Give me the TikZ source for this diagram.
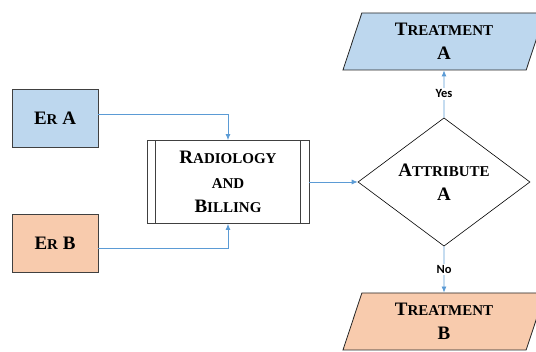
\documentclass[tikz,border=0pt]{standalone}
\usepackage{fontspec}
\setmainfont{Liberation Serif}
\newfontfamily\yesnofont{Carlito}
\usetikzlibrary{shapes.geometric, positioning, arrows.meta}
\usepackage{xcolor}
\definecolor{erblue}{HTML}{BDD7EE}
\definecolor{erorange}{HTML}{F8CBAD}
\definecolor{flowblue}{HTML}{5B9BD5}
\newcommand{\lowcaps}[1]{{\fontsize{15}{15}\selectfont #1}}

\begin{document}
\begin{tikzpicture}[x=1pt, y=-1pt,
        font=\bfseries\fontsize{19}{24.5}\selectfont,
        erbox/.style={draw=black!75, line width=0.8pt, minimum width=86pt, minimum height=58pt, inner sep=0pt},
        procbox/.style={draw=black!75, line width=0.8pt, minimum width=162pt, minimum height=83pt, align=center, inner sep=0pt},
        decision/.style={diamond, draw=black, line width=0.6pt, minimum width=172pt, minimum height=127pt, align=center, inner sep=0pt},
        outcome/.style={trapezium, trapezium left angle=63, trapezium right angle=117, trapezium stretches body,
            draw=black!85, line width=0.8pt, minimum width=202pt, minimum height=57pt, align=center, inner sep=0pt},
        flow/.style={draw=flowblue, line width=0.8pt, -{Latex[length=6pt, width=5pt]}},
        yesno/.style={fill=white, inner sep=1.5pt, font=\yesnofont\bfseries\fontsize{12.5}{12.5}\selectfont}]
        \useasboundingbox (0,0) rectangle (536,352);
        \node[erbox, fill=erblue] (erA) at (55,118) {E\lowcaps{R} A};
        \node[erbox, fill=erorange] (erB) at (55,243) {E\lowcaps{R} B};
        \node[procbox] (rad) at (228,182) {R\lowcaps{ADIOLOGY}\\\lowcaps{AND}\\B\lowcaps{ILLING}};
        \draw[draw=black!75, line width=0.8pt] ([xshift=9pt]rad.north west) -- ([xshift=9pt]rad.south west);
        \draw[draw=black!75, line width=0.8pt] ([xshift=-9pt]rad.north east) -- ([xshift=-9pt]rad.south east);
        \node[decision] (attr) at (444,182) {A\lowcaps{TTRIBUTE}\\A};
        \node[outcome, fill=erblue] (trA) at (444,41.5) {T\lowcaps{REATMENT}\\A};
        \node[outcome, fill=erorange] (trB) at (444,321.5) {T\lowcaps{REATMENT}\\B};
        \draw[flow] ([yshift=4pt]erA.east) -| (rad.north);
        \draw[flow] ([yshift=-5pt]erB.east) -| (rad.south);
        \draw[flow] (rad.east) -- (attr.west);
        \draw[flow] (attr.north) -- node[yesno] {Yes} (trA.south);
        \draw[flow] (attr.south) -- node[yesno] {No} (trB.north);
\end{tikzpicture}
\end{document}
